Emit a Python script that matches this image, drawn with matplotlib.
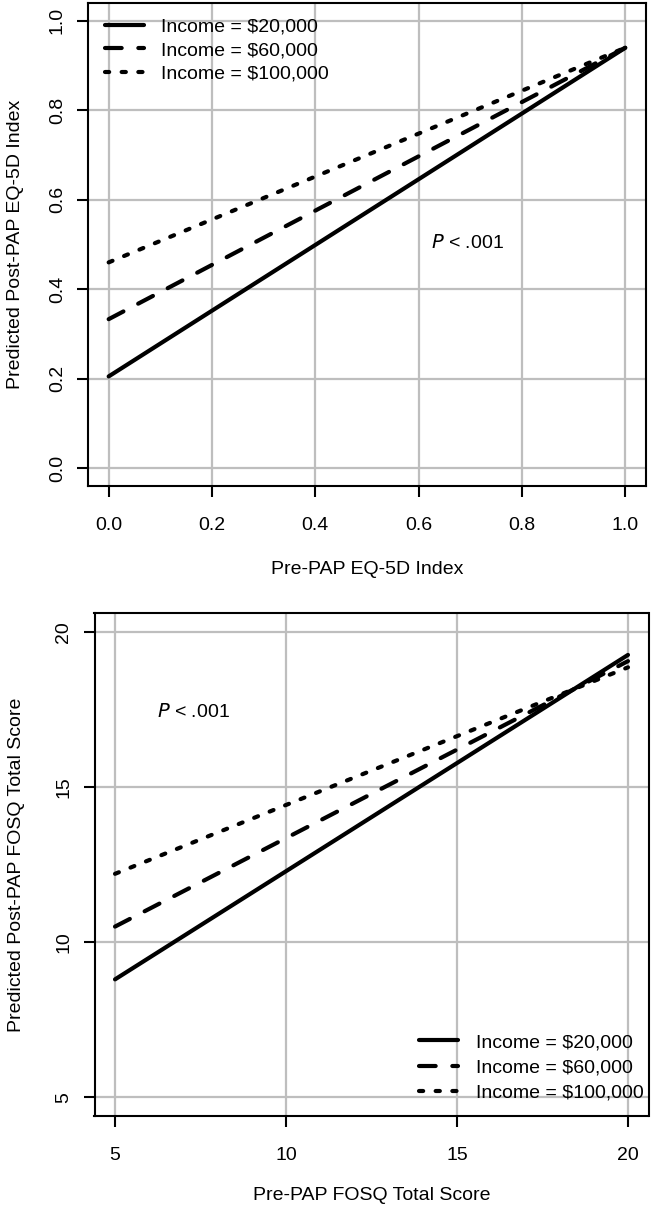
import matplotlib
matplotlib.use("Agg")
import matplotlib.pyplot as plt

plt.rcParams['font.family'] = ['Liberation Sans', 'DejaVu Sans']

# top panel: EQ-5D
eq_x = [0.0, 1.0]
eq_20k = [0.205, 0.94]
eq_60k = [0.333, 0.94]
eq_100k = [0.46, 0.94]
eq_ticks = [0.0, 0.2, 0.4, 0.6, 0.8, 1.0]

# bottom panel: FOSQ
fosq_x = [5, 20]
fosq_20k = [8.8, 19.25]
fosq_60k = [10.5, 19.05]
fosq_100k = [12.2, 18.85]
fosq_ticks = [5, 10, 15, 20]

labels = ["Income = $20,000", "Income = $60,000", "Income = $100,000"]
styles = ['-', (0, (4, 4)), (0, (1, 3))]

fig = plt.figure(figsize=(6.51, 12.09), dpi=100)
ax1 = fig.add_axes([88/651, 1-486/1209, 558/651, 483/1209])
ax2 = fig.add_axes([94.5/651, 1-1116/1209, 554/651, 503/1209])


def style_axes(ax, ticks, lo, hi):
    pad = (hi - lo) * 0.04
    ax.set_xlim(lo - pad, hi + pad)
    ax.set_ylim(lo - pad, hi + pad)
    ax.set_xticks(ticks)
    ax.set_yticks(ticks)
    ax.grid(True, color='#bebebe', lw=1.6)
    ax.set_axisbelow(True)
    for s in ax.spines.values():
        s.set_linewidth(1.5)
    ax.tick_params(length=8, width=1.5, labelsize=14, pad=14)
    ax.tick_params(axis='y', labelrotation=90, pad=8)
    for t in ax.get_yticklabels():
        t.set_va('center')


def draw(ax, x, ys):
    for y, ls, lab in zip(ys, styles, labels):
        ax.plot(x, y, color='black', lw=3, linestyle=ls,
                dash_capstyle='round', solid_capstyle='round', label=lab)


draw(ax1, eq_x, [eq_20k, eq_60k, eq_100k])
style_axes(ax1, eq_ticks, 0.0, 1.0)
ax1.set_xticklabels(["%.1f" % t for t in eq_ticks])
ax1.set_yticklabels(["%.1f" % t for t in eq_ticks])
ax1.set_xlabel("Pre-PAP EQ-5D Index", fontsize=14, labelpad=20)
ax1.set_ylabel("Predicted Post-PAP EQ-5D Index", fontsize=14, labelpad=18)
ax1.text(0.694, 0.503, r"$\it{P}$ < .001", fontsize=14, ha='center', va='center')
ax1.legend(loc='upper left', bbox_to_anchor=(0.030, 0.969), frameon=False,
           fontsize=14, handlelength=2.0, handletextpad=0.9, labelspacing=0.3,
           borderpad=0, borderaxespad=0)

draw(ax2, fosq_x, [fosq_20k, fosq_60k, fosq_100k])
style_axes(ax2, fosq_ticks, 5, 20)
ax2.set_xlabel("Pre-PAP FOSQ Total Score", fontsize=14, labelpad=17)
ax2.set_ylabel("Predicted Post-PAP FOSQ Total Score", fontsize=14, labelpad=22)
ax2.text(7.28, 17.4, r"$\it{P}$ < .001", fontsize=14, ha='center', va='center')
ax2.legend(loc='lower left', bbox_to_anchor=(0.586, 0.028), frameon=False,
           fontsize=14, handlelength=2.0, handletextpad=0.9, labelspacing=0.4,
           borderpad=0, borderaxespad=0)

fig.savefig("out.png", dpi=100)
